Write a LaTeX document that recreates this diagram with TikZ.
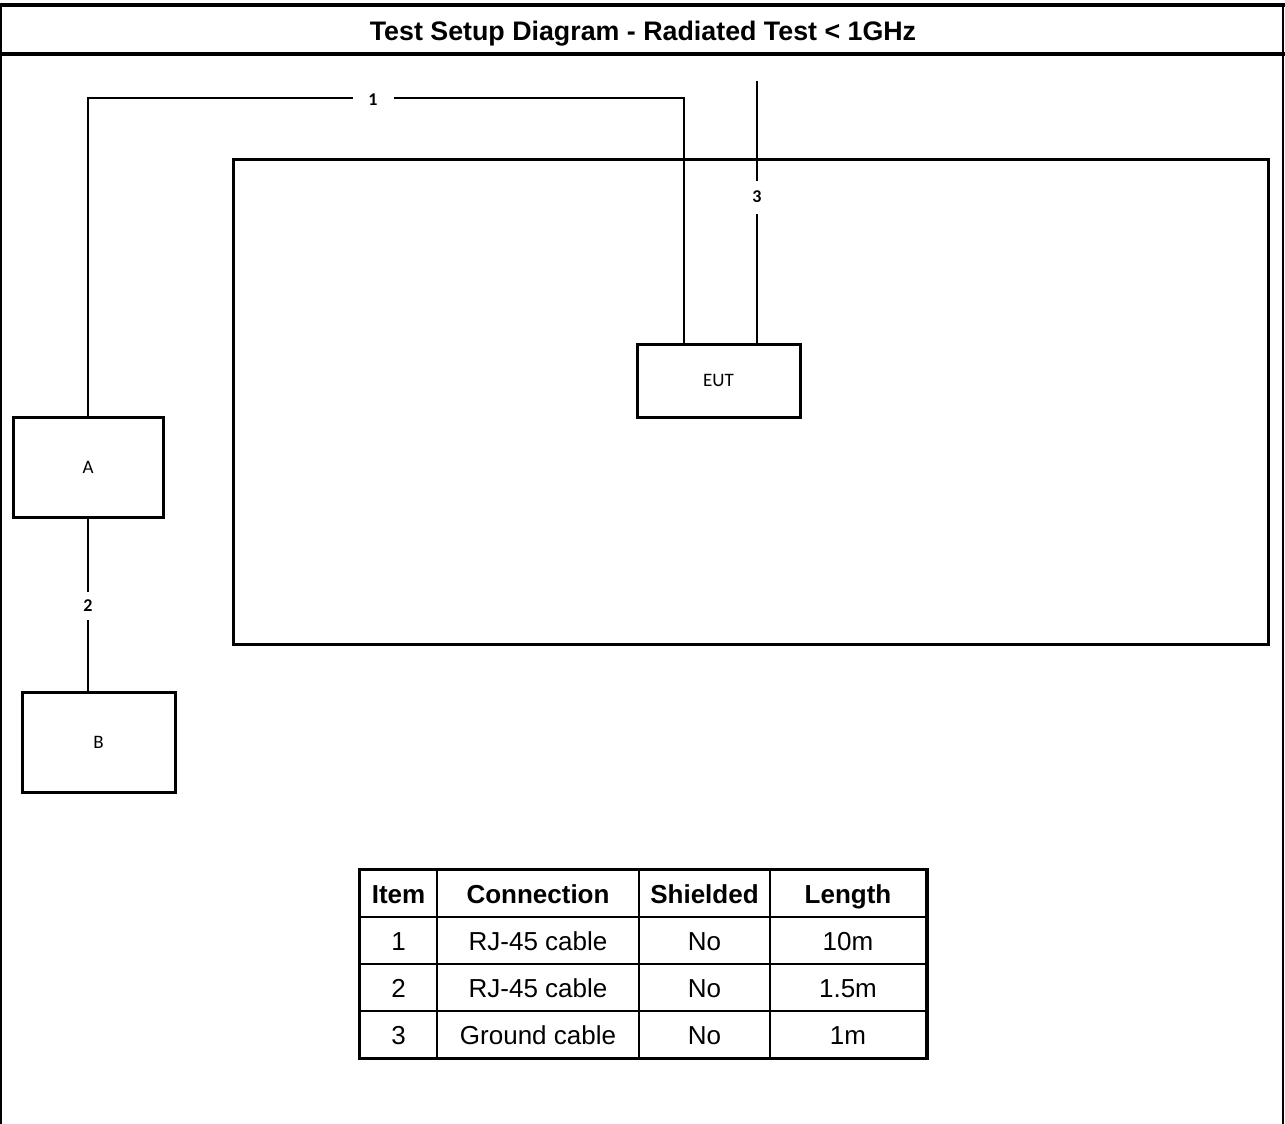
\documentclass[tikz,border=0pt]{standalone}
\usepackage{fontspec}
\setmainfont{Liberation Sans}
\newfontfamily\lblfont{Carlito}
\usetikzlibrary{positioning}
\tikzset{
  unitbox/.style={draw, line width=3pt, inner sep=0pt,
    font=\lblfont\fontsize{19}{21}\selectfont},
  cable/.style={line width=2pt},
  cablelabel/.style={fill=white, inner sep=0pt,
    font=\lblfont\bfseries\fontsize{18}{20}\selectfont},
  framethin/.style={line width=2pt},
  framethick/.style={line width=3.5pt},
  cell/.style={draw, line width=2pt, minimum height=47pt, inner sep=0pt,
    text height=22pt, text depth=2pt,
    font=\fontsize{26}{30}\selectfont},
  headcell/.style={cell, font=\bfseries\fontsize{26}{30}\selectfont},
}

\begin{document}
\begin{tikzpicture}[x=1pt, y=-1pt]
  \useasboundingbox (0,0) rectangle (1285,1124);

  % Frame and title
  \draw[framethin] (1,1124) -- (1,5) -- (1283,5) -- (1283,1124);
  \draw[framethick] (0,5) -- (1285,5);
  \draw[framethick] (0,54) -- (1285,54);
  \node[font=\bfseries\fontsize{26.8}{30}\selectfont] (title) at (643,34)
    {Test Setup Diagram - Radiated Test < 1GHz};

  % Chamber and units
  \node[unitbox, minimum width=1035pt, minimum height=485pt] (chamber) at (750.5,401.5) {};
  \node[unitbox, minimum width=163pt, minimum height=73pt] (eut) at (718.5,380.5) {EUT};
  \node[unitbox, minimum width=150pt, minimum height=100pt] (a) at (88,467) {A};
  \node[unitbox, minimum width=153pt, minimum height=100pt] (b) at (98.5,742) {B};

  % Cables
  \coordinate (eutin) at ([xshift=-34.5pt]eut.north);
  \coordinate (eutgnd) at ([xshift=38.5pt]eut.north);
  \coordinate (gndend) at (757,81);
  \draw[cable] (a.north) |- (88,98) -| (eutin);
  \draw[cable] (a.south) -- (a.south |- b.north);
  \draw[cable] (gndend) -- (eutgnd);
  \node[cablelabel, minimum width=41pt] (l1) at (373,100) {1};
  \node[cablelabel, minimum height=28pt] (l2) at (88,606) {2};
  \node[cablelabel, minimum height=33pt] (l3) at (757,197) {3};

  % Cable table
  \node[headcell, minimum width=77pt] (item0) at (398.5,893.5) {Item};
  \node[headcell, minimum width=202pt] (conn0) at (538,893.5) {Connection};
  \node[headcell, minimum width=131pt] (shield0) at (704.5,893.5) {Shielded};
  \node[headcell, minimum width=156pt] (len0) at (848,893.5) {Length};
  \foreach \y/\ta/\tb/\tc/\td [count=\r] in {
      940.5/1/RJ-45 cable/No/10m,
      987.5/2/RJ-45 cable/No/1.5m,
      1034/3/Ground cable/No/1m}{
    \node[cell, minimum width=77pt] (item\r) at (398.5,\y) {\ta};
    \node[cell, minimum width=202pt] (conn\r) at (538,\y) {\tb};
    \node[cell, minimum width=131pt] (shield\r) at (704.5,\y) {\tc};
    \node[cell, minimum width=156pt] (len\r) at (848,\y) {\td};
  }
  \draw[line width=3pt] (item0.north west) rectangle (len3.south east);
\end{tikzpicture}
\end{document}
